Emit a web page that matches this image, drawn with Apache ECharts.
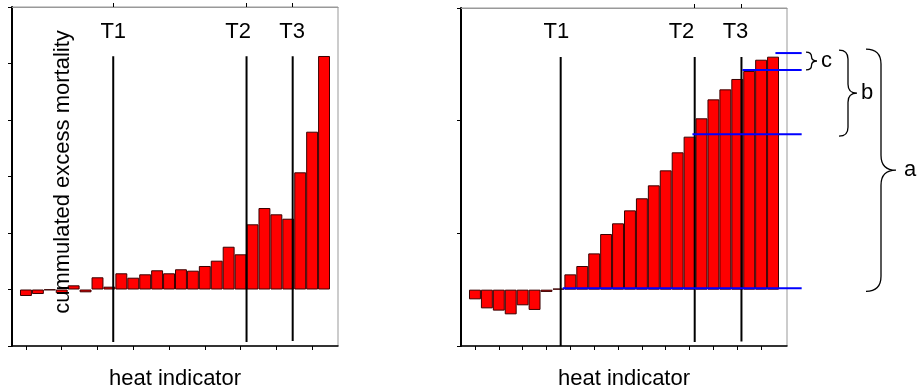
<!DOCTYPE html>
<html><head><meta charset="utf-8">
<script src="https://cdn.jsdelivr.net/npm/echarts@6/dist/echarts.min.js"></script>
<style>html,body{margin:0;padding:0;background:#fff}#c{width:917px;height:392px}</style>
</head><body><div id="c"></div>
<script>
// ---- data ----
const leftValues = [-0.115,-0.08,-0.01,-0.067,0.074,-0.05,0.216,0.05,0.287,0.209,0.269,0.34,0.287,0.358,0.333,0.416,0.51,0.757,0.623,1.154,1.442,1.331,1.253,2.074,2.793,4.133];
const rightValues = [-0.086,-0.166,-0.186,-0.219,-0.139,-0.18,-0.02,0.01,0.136,0.21,0.322,0.494,0.589,0.704,0.811,0.926,1.059,1.219,1.358,1.521,1.689,1.778,1.87,1.941,2.041,2.068];
const thresholdLabels = ['T1','T2','T3'];
const leftThresholds = [7.32, 18.5, 22.37];
const leftLabelX = [7.32, 17.79, 22.32];
const rightThresholds = [7.19, 18.43, 22.35];
const rightLabelX = [6.83, 17.32, 21.85];
const leftLineTop = 4.13, leftLineBottom = [-0.93, -0.93, -0.91];
const rightLineTop = 2.065, rightLineBottom = [-0.5, -0.465, -0.46];
const leftTickLabelY = 4.56, rightTickLabelY = 2.29;
const levelValues = [0.012, 1.38, 1.95, 2.10];
const levelStarts = [7.36, 18.24, 22.43, 25.2];
const levelEnd = 27.4;
const braceNames = ['a','b','c'];
const braceFrom = [0, 1, 2];   // level index at bottom of brace
const braceTo = [3, 3, 3];     // level index at top of brace
const leftXTicks = [0,3,6,9,12,15,18,21,24];
const rightXTicks = [0,2,4,6,8,10,12,14,16,18,20,22,24];
// -----------------

const FONT = '"Liberation Sans", Arial, sans-serif';
const X_MIN = -1.17, X_MAX = 26.17;

function barData(vals){ return vals.map((v,i)=>[i, v]); }

function tRender(labelX, labelY){
  return function(params, api){
    const x = api.value(0), y1 = api.value(1), y2 = api.value(2);
    const p1 = api.coord([x, y1]), p2 = api.coord([x, y2]);
    const pl = api.coord([labelX[params.dataIndex], labelY]);
    return {type:'group', children:[
      {type:'line', shape:{x1:p1[0],y1:p1[1],x2:p2[0],y2:p2[1]}, style:{stroke:'#000', lineWidth:2}},
      {type:'text', x:pl[0], y:pl[1], style:{text:thresholdLabels[params.dataIndex], font:'22px '+FONT, fill:'#000', align:'center', verticalAlign:'middle'}}
    ]};
  };
}

function braceRender(params, api){
  const i = params.dataIndex;
  const yb = api.coord([0, api.value(0)])[1];
  const yt = api.coord([0, api.value(1)])[1];
  const rightEdge = api.coord([X_MAX, 0])[0];
  const geo = [{dx:79, w:30, top:-4, bot:3}, {dx:52, w:18, top:-3, bot:2}, {dx:19, w:11, top:-1, bot:0}][i];
  const x = rightEdge + geo.dx, w = geo.w;
  const y1 = yt + geo.top, y2 = yb + geo.bot;
  const xm = x + w/2, ym = (y1+y2)/2;
  const r = Math.min(w/2, (y2-y1)/4);
  const d = `M ${x} ${y1} Q ${xm} ${y1} ${xm} ${y1+r} L ${xm} ${ym-r} Q ${xm} ${ym} ${x+w} ${ym} Q ${xm} ${ym} ${xm} ${ym+r} L ${xm} ${y2-r} Q ${xm} ${y2} ${x} ${y2}`;
  return {type:'group', children:[
    {type:'path', shape:{pathData:d}, style:{stroke:'#000', lineWidth:1.3, fill:null}},
    {type:'text', x:x+w+(i===0?8:4), y:ym, style:{text:braceNames[i], font:'22px '+FONT, fill:'#000', align:'left', verticalAlign:'middle'}}
  ]};
}

function levelRender(params, api){
  const p1 = api.coord([api.value(0), api.value(1)]);
  const p2 = api.coord([api.value(2), api.value(1)]);
  return {type:'line', shape:{x1:p1[0],y1:p1[1],x2:p2[0],y2:p2[1]}, style:{stroke:'#0000ff', lineWidth:2}};
}

const barStyle = {color:'#ff0000', borderColor:'#3a0000', borderWidth:1};

function bottomAxis(gi, ticks){
  return {type:'value', gridIndex:gi, min:X_MIN, max:X_MAX, position:'bottom',
    name:'heat indicator', nameLocation:'middle', nameGap:22,
    nameTextStyle:{fontSize:22, fontFamily:FONT, color:'#000'},
    axisLine:{show:true, onZero:false, lineStyle:{color:'#000', width:1.5}},
    axisTick:{show:true, inside:false, length:4, customValues:ticks, lineStyle:{color:'#000'}},
    axisLabel:{show:false}, splitLine:{show:false}};
}
function topAxis(gi, ticks){
  return {type:'value', gridIndex:gi, min:X_MIN, max:X_MAX, position:'top',
    axisLine:{show:true, onZero:false, lineStyle:{color:'#999', width:1}},
    axisTick:{show:true, inside:false, length:4, customValues:ticks, lineStyle:{color:'#000'}},
    axisLabel:{show:false}, splitLine:{show:false}};
}
function leftAxis(gi, min, max){
  return {type:'value', gridIndex:gi, min:min, max:max, interval:1, position:'left',
    axisLine:{show:true, onZero:false, lineStyle:{color:'#000', width:2}},
    axisTick:{show:true, inside:false, length:4, lineStyle:{color:'#000'}},
    axisLabel:{show:false}, splitLine:{show:false}};
}

const option = {
  animation:false,
  backgroundColor:'#fff',
  grid:[
    {left:12, top:7, width:326, height:339, show:true, borderColor:'#999', borderWidth:1, outerBoundsMode:'none', containLabel:false},
    {left:461, top:8, width:326, height:338, show:true, borderColor:'#999', borderWidth:1, outerBoundsMode:'none', containLabel:false}
  ],
  xAxis:[ bottomAxis(0, leftXTicks), bottomAxis(1, rightXTicks), topAxis(0, leftThresholds), topAxis(1, rightThresholds.slice(1)) ],
  yAxis:[ leftAxis(0, -1, 5), leftAxis(1, -0.5, 2.5) ],
  graphic:[
    {type:'text', x:63, y:172, rotation:Math.PI/2, z:100,
      style:{text:'cummulated excess mortality', font:'22px '+FONT, fill:'#000', align:'center', verticalAlign:'middle'}}
  ],
  series:[
    {type:'bar', xAxisIndex:0, yAxisIndex:0, data:barData(leftValues), barWidth:11.92, itemStyle:barStyle, z:2},
    {type:'bar', xAxisIndex:1, yAxisIndex:1, data:barData(rightValues), barWidth:11.92, itemStyle:barStyle, z:2},
    {type:'custom', xAxisIndex:0, yAxisIndex:0, clip:false, z:5,
      data:leftThresholds.map((t,i)=>[t, leftLineTop, leftLineBottom[i]]),
      renderItem:tRender(leftLabelX, leftTickLabelY)},
    {type:'custom', xAxisIndex:1, yAxisIndex:1, clip:false, z:5,
      data:rightThresholds.map((t,i)=>[t, rightLineTop, rightLineBottom[i]]),
      renderItem:tRender(rightLabelX, rightTickLabelY)},
    {type:'custom', xAxisIndex:1, yAxisIndex:1, clip:false, z:6,
      data:levelValues.map((v,i)=>[levelStarts[i], v, levelEnd]),
      renderItem:levelRender},
    {type:'custom', xAxisIndex:1, yAxisIndex:1, clip:false, z:6,
      data:braceNames.map((n,i)=>[levelValues[braceFrom[i]], levelValues[braceTo[i]]]),
      encode:{y:[0,1]},
      renderItem:braceRender}
  ]
};
const chart = echarts.init(document.getElementById('c'), null, {renderer:'canvas'});
chart.setOption(option);
</script>
</body></html>
